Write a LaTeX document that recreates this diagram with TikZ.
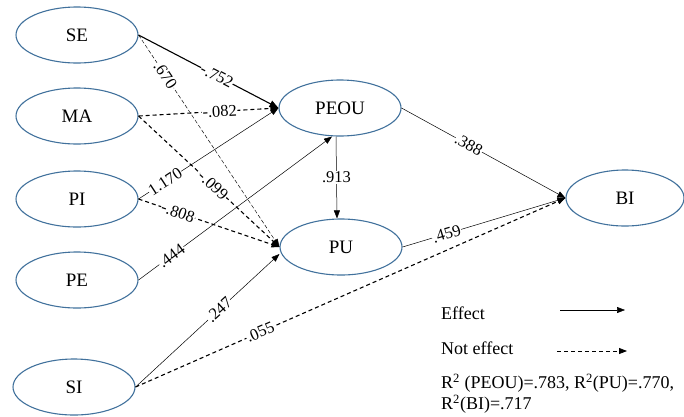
\documentclass[tikz,border=0pt]{standalone}
\usepackage{fontspec}
\setmainfont{Liberation Serif}
\usetikzlibrary{arrows.meta,shapes.geometric}
\definecolor{ellblue}{HTML}{41719C}
\begin{document}
\begin{tikzpicture}[x=1pt,y=-1pt,
  var/.style={draw=ellblue,line width=1.1pt,ellipse,minimum width=122pt,minimum height=56pt,inner sep=0pt,font=\fontsize{19}{19}\selectfont},
  eff/.style={draw=black,line width=0.5pt,-{Triangle[length=8pt,width=6pt]}},
  effthick/.style={draw=black,line width=1.1pt,-{Triangle[length=9pt,width=7pt]}},
  noeff/.style={draw=black,line width=1.1pt,dash pattern=on 4pt off 3pt,-{Triangle[length=8pt,width=6pt]}},
  noeffthin/.style={draw=black,line width=0.45pt,dash pattern=on 4pt off 2pt,-{Triangle[length=8pt,width=6pt]}},
  lab/.style={sloped,fill=white,inner sep=0.5pt,font=\fontsize{16.5}{16.5}\selectfont},
  txt/.style={font=\fontsize{18}{21}\selectfont,anchor=west,inner sep=0pt}]
\useasboundingbox (0,0) rectangle (684,416);
\node[var] (SE) at (77,35) {SE};
\node[var] (MA) at (77,116) {MA};
\node[var] (PI) at (77,199) {PI};
\node[var] (PE) at (77,280) {PE};
\node[var] (SI) at (74,387) {SI};
\node[var] (PEOU) at (340,108) {PEOU};
\node[var] (PU) at (341,247) {PU};
\node[var,minimum width=118pt] (BI) at (625,198) {BI};

\draw[noeffthin] (SE.east) -- node[lab,pos=0.19] {.670} (PU.west);
\draw[effthick] (SE.east) -- node[lab,pos=0.56] {-.752} (PEOU.west);
\draw[noeff] (MA.east) -- node[lab,pos=0.58] {-.082} (PEOU.west);
\draw[noeff] (MA.east) -- node[lab,pos=0.53] {-.099} (PU.west);
\draw[eff] (PI.east) -- node[lab,pos=0.19] {1.170} (PEOU.west);
\draw[noeff] (PI.east) -- node[lab,pos=0.28] {-.808} (PU.west);
\draw[eff] (PE.east) -- node[lab,pos=0.17] {.444} ([xshift=-8pt]PEOU.south);
\draw[eff] (SI.east) -- node[lab,pos=0.58] {.247} ([yshift=-7pt]PU.west);
\draw[noeff] (SI.east) -- node[lab,pos=0.29] {.055} (BI.west);
\draw[eff] ([xshift=-4pt]PEOU.south) -- node[fill=white,inner sep=1pt,font=\fontsize{16.5}{16.5}\selectfont] {.913} ([xshift=-4pt]PU.north);
\draw[eff] (PEOU.east) -- node[lab,pos=0.41] {.388} (BI.west);
\draw[eff] (PU.east) -- node[lab,pos=0.27] {.459} (BI.west);

\node[txt] (leff) at (441,313) {Effect};
\coordinate (e1) at (560,310);
\coordinate (e2) at (625,310);
\draw[eff] (e1) -- (e2);
\node[txt] (lnoeff) at (441,348) {Not effect};
\coordinate (n1) at (557,351);
\coordinate (n2) at (627,351);
\draw[noeff,line width=0.8pt] (n1) -- (n2);
\node[txt,align=left,anchor=north west] (r2) at (441,374) {R\textsuperscript{2} (PEOU)=.783, R\textsuperscript{2}(PU)=.770,\\R\textsuperscript{2}(BI)=.717};
\end{tikzpicture}
\end{document}
